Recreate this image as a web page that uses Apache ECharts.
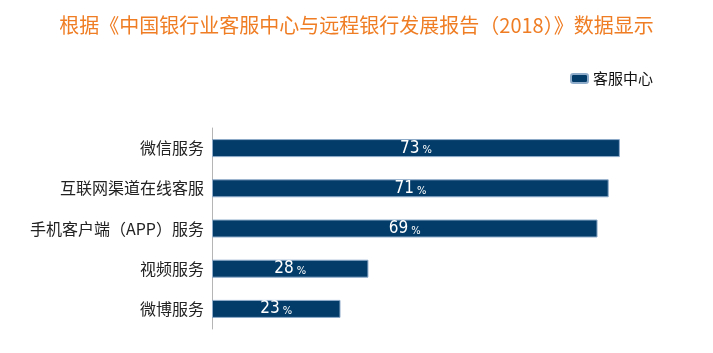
<!DOCTYPE html>
<html>
<head>
<meta charset="utf-8">
<script src="https://cdn.jsdelivr.net/npm/echarts@6/dist/echarts.min.js"></script>
<style>
  html, body { margin: 0; padding: 0; background: #fff; }
  #chart { width: 713px; height: 353px; }
</style>
</head>
<body>
<div id="chart"></div>
<script>
  const categories = ['微信服务', '互联网渠道在线客服', '手机客户端（APP）服务', '视频服务', '微博服务'];
  const values = [73, 71, 69, 28, 23];
  const seriesName = '客服中心';

  const chart = echarts.init(document.getElementById('chart'));

  chart.setOption({
    animation: false,
    title: {
      text: '根据《中国银行业客服中心与远程银行发展报告（2018）》数据显示',
      left: 'center',
      top: 10,
      textStyle: {
        color: '#EF7D24',
        fontSize: 20,
        fontWeight: 'normal',
        fontFamily: 'Noto Sans CJK SC'
      }
    },
    legend: {
      data: [seriesName],
      right: 55,
      top: 66,
      itemWidth: 17,
      itemHeight: 9,
      itemGap: 7,
      textStyle: { fontSize: 15, color: '#111', fontFamily: 'Noto Sans CJK SC' }
    },
    grid: { left: 212, right: 54, top: 128, bottom: 24 },
    xAxis: {
      type: 'value',
      min: 0,
      max: 80,
      show: false
    },
    yAxis: {
      type: 'category',
      inverse: true,
      data: categories,
      axisLine: { show: true, lineStyle: { color: '#b5b5b5', width: 1 } },
      axisTick: { show: false },
      axisLabel: {
        color: '#222',
        fontSize: 16,
        margin: 8,
        fontFamily: 'Noto Sans CJK SC'
      }
    },
    series: [{
      name: seriesName,
      type: 'bar',
      data: values,
      barWidth: 18,
      itemStyle: {
        color: '#033c68',
        borderColor: '#8faccb',
        borderWidth: 1
      },
      label: {
        show: true,
        position: 'inside',
        formatter: p => `{v|${p.value}}{p|%}`,
        rich: {
          v: { color: '#fff', fontSize: 17, fontFamily: 'DejaVu Sans Condensed, Liberation Sans' },
          p: { color: '#fff', fontSize: 11, fontFamily: 'DejaVu Sans Condensed, Liberation Sans', padding: [5, 0, 0, 3] }
        }
      }
    }]
  });
</script>
</body>
</html>
